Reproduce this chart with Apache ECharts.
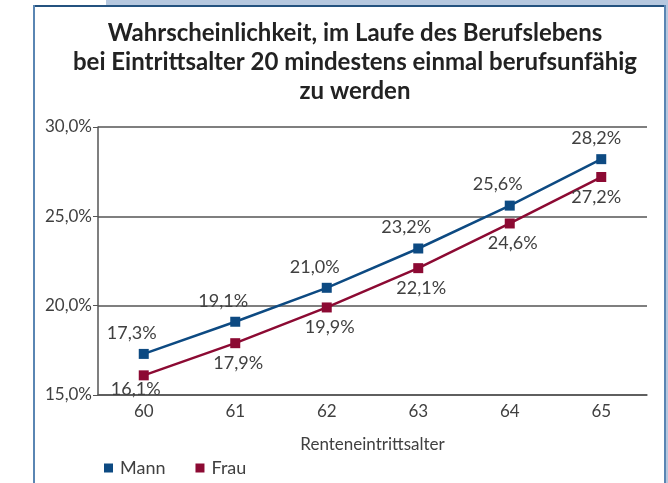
<!DOCTYPE html>
<html>
<head>
<meta charset="utf-8">
<script src="https://cdn.jsdelivr.net/npm/echarts@6/dist/echarts.min.js"></script>
<style>
  html, body { margin: 0; padding: 0; background: #fff; }
  #main { width: 668px; height: 483px; }
</style>
</head>
<body>
<div id="main"></div>
<script>
var categories = ['60', '61', '62', '63', '64', '65']
var mann = [17.3, 19.1, 21.0, 23.2, 25.6, 28.2]
var frau = [16.1, 17.9, 19.9, 22.1, 24.6, 27.2]
var seriesNames = ['Mann', 'Frau']

var fontFamily = 'Lato, "Open Sans", sans-serif'
var textColor = '#404040'
var axisColor = '#555555'
var mannColor = '#0d4a82'
var frauColor = '#8c0a33'

function fmt (v) {
  return v.toFixed(1).replace('.', ',') + '%'
}

var myChart = echarts.init(document.getElementById('main'))
myChart.setOption({
  animation: false,
  title: {
    text: 'Wahrscheinlichkeit, im Laufe des Berufslebens\nbei Eintrittsalter 20 mindestens einmal berufsunfähig\nzu werden',
    left: 350,
    top: 14,
    textAlign: 'center',
    textStyle: {
      fontFamily: fontFamily,
      fontWeight: 'bold',
      fontSize: 24,
      lineHeight: 29,
      color: '#222'
    }
  },
  graphic: [
    // light blue band on top
    { type: 'rect', shape: { x: 106, y: 0, width: 562, height: 5 }, style: { fill: '#b6c8df' } },
    { type: 'rect', shape: { x: 666, y: 0, width: 2, height: 483 }, style: { fill: '#b6c8df' } },
    // frame
    { type: 'rect', shape: { x: 33, y: 5, width: 633, height: 2 }, style: { fill: '#24527f' } },
    { type: 'rect', shape: { x: 33, y: 5, width: 2, height: 478 }, style: { fill: '#5a86b3' } },
    { type: 'rect', shape: { x: 664, y: 5, width: 2, height: 478 }, style: { fill: '#5a86b3' } }
  ],
  legend: {
    data: seriesNames,
    left: 99,
    top: 454,
    icon: 'rect',
    itemWidth: 9,
    itemHeight: 9,
    itemGap: 30,
    textStyle: {
      fontFamily: fontFamily,
      fontSize: 18,
      color: textColor,
      padding: [0, 0, 0, 2]
    }
  },
  grid: {
    left: 98,
    right: 21,
    top: 127,
    bottom: 88
  },
  xAxis: {
    type: 'category',
    data: categories,
    boundaryGap: true,
    name: 'Renteneintrittsalter',
    nameLocation: 'middle',
    nameGap: 41,
    nameTextStyle: {
      fontFamily: fontFamily,
      fontSize: 17,
      color: textColor
    },
    axisLine: { lineStyle: { color: axisColor, width: 1.5 } },
    axisTick: { length: 4, lineStyle: { color: axisColor } },
    axisLabel: {
      fontFamily: fontFamily,
      fontSize: 17,
      color: textColor,
      margin: 8
    }
  },
  yAxis: {
    type: 'value',
    min: 15,
    max: 30,
    interval: 5,
    axisLine: { show: true, lineStyle: { color: axisColor, width: 1.5 } },
    axisTick: { show: true, length: 5, lineStyle: { color: axisColor } },
    axisLabel: {
      fontFamily: fontFamily,
      fontSize: 17,
      color: textColor,
      margin: 6,
      formatter: function (v) { return fmt(v) }
    },
    splitLine: { show: true, lineStyle: { color: axisColor, width: 1.5 } }
  },
  series: [
    {
      name: 'Mann',
      type: 'line',
      data: mann.map(function (v, i) {
        return i === mann.length - 1 ? { value: v, label: { offset: [-5, 0] } } : v
      }),
      color: mannColor,
      symbol: 'rect',
      symbolSize: 10,
      lineStyle: { width: 2.5 },
      label: {
        show: true,
        position: 'top',
        distance: 7,
        offset: [-12, 0],
        fontFamily: fontFamily,
        fontSize: 18,
        color: textColor,
        formatter: function (p) { return fmt(p.value) }
      }
    },
    {
      name: 'Frau',
      type: 'line',
      data: frau.map(function (v, i) {
        return i === 0 ? { value: v, label: { offset: [-8, -6] } } : (i === frau.length - 1 ? { value: v, label: { offset: [-5, 0] } } : v)
      }),
      color: frauColor,
      symbol: 'rect',
      symbolSize: 10,
      lineStyle: { width: 2.5 },
      label: {
        show: true,
        position: 'bottom',
        distance: 6,
        offset: [3, 0],
        fontFamily: fontFamily,
        fontSize: 18,
        color: textColor,
        formatter: function (p) { return fmt(p.value) }
      }
    }
  ]
})
</script>
</body>
</html>
